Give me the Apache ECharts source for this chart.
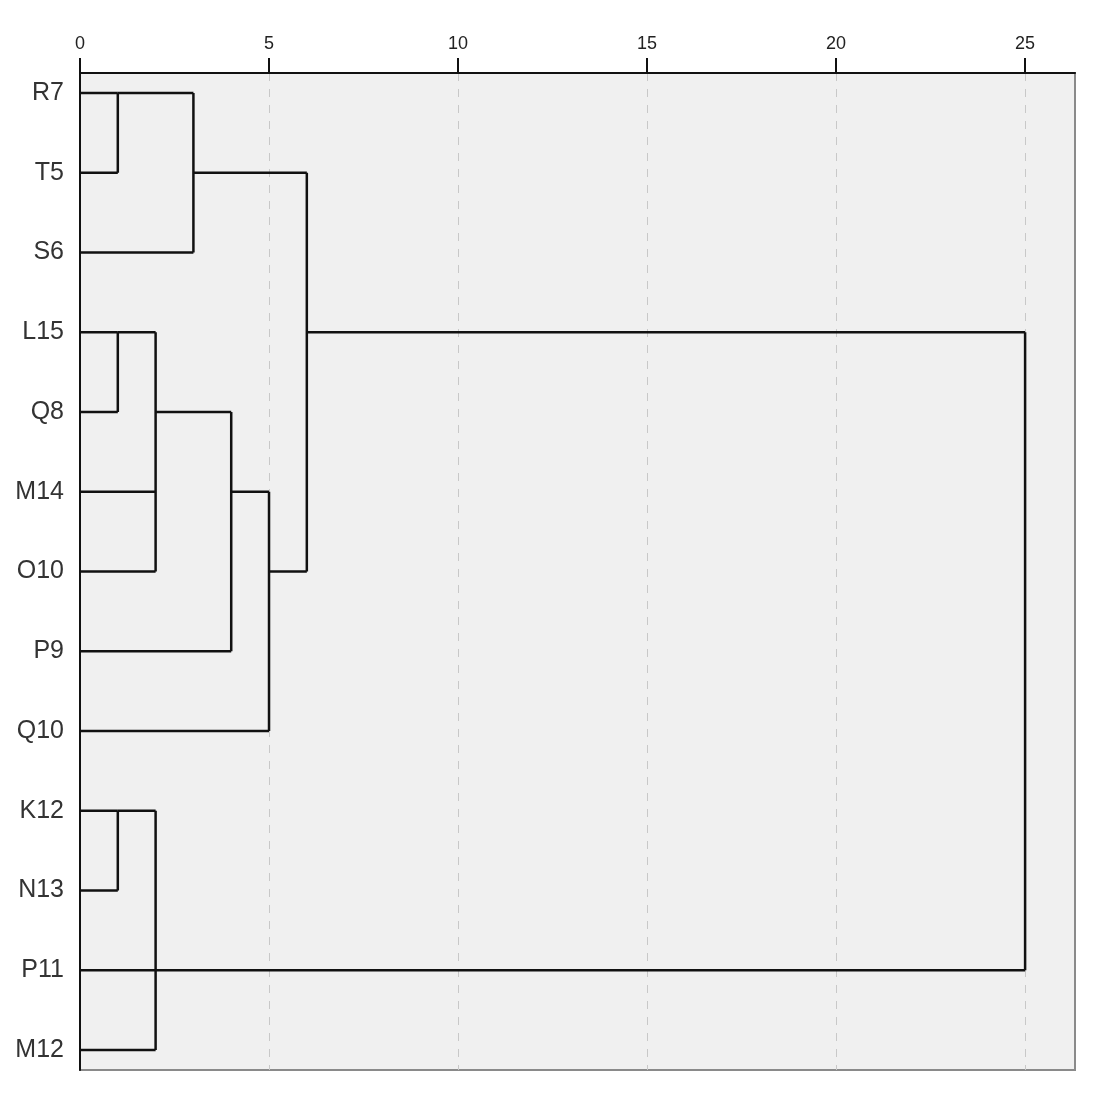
<!DOCTYPE html>
<html>
<head>
<meta charset="utf-8">
<script src="https://cdn.jsdelivr.net/npm/echarts@6/dist/echarts.min.js"></script>
<style>html,body{margin:0;padding:0;background:#fff;}#c{width:1100px;height:1096px;}</style>
</head>
<body>
<div id="c"></div>
<script>
// Leaves (top to bottom)
const leaves = ['R7','T5','S6','L15','Q8','M14','O10','P9','Q10','K12','N13','P11','M12'];
// Merges: ids continue after leaves (13, 14, ...)
const mergeHeights  = [1, 3, 1, 2, 4, 5, 6, 1, 2, 25];
const mergeChildren = [[0,1],[13,2],[3,4],[15,5,6],[16,7],[17,8],[14,18],[9,10],[20,11,12],[19,21]];
const mergeRows     = [0, 1, 3, 4, 5, 6, 3, 9, 11, 7];
const xTicks = [0, 5, 10, 15, 20, 25];

const nodeH = [], nodeRow = [];
leaves.forEach((l, i) => { nodeH.push(0); nodeRow.push(i); });
mergeHeights.forEach((h, i) => { nodeH.push(h); nodeRow.push(mergeRows[i]); });

const segs = [];
mergeChildren.forEach((ch, i) => {
  const h = mergeHeights[i];
  const rows = ch.map(c => nodeRow[c]);
  ch.forEach(c => segs.push({coords: [[nodeH[c], nodeRow[c]], [h, nodeRow[c]]]}));
  segs.push({coords: [[h, Math.min(...rows)], [h, Math.max(...rows)]]});
});

const chart = echarts.init(document.getElementById('c'));
chart.setOption({
  animation: false,
  backgroundColor: '#ffffff',
  grid: {left: 80, right: 25, top: 73, bottom: 26, show: true,
         backgroundColor: '#f0f0f0', borderColor: '#8a8a8a', borderWidth: 2},
  xAxis: {
    type: 'value', position: 'top', min: 0, max: 26.32,
    axisLine: {show: true, onZero: false, lineStyle: {color: '#111', width: 2}},
    axisTick: {show: true, length: 15, customValues: xTicks, lineStyle: {color: '#111', width: 2}},
    axisLabel: {customValues: xTicks, fontSize: 18, color: '#222', margin: 20,
                fontFamily: 'Liberation Sans, Arial, sans-serif'},
    splitLine: {show: true, lineStyle: {color: '#c8c8c8', type: [8, 8], width: 1}}
  },
  yAxis: {
    type: 'value', inverse: true, min: -0.25, max: 12.25,
    axisLine: {show: true, onZero: false, lineStyle: {color: '#111', width: 2}},
    axisTick: {show: false},
    splitLine: {show: false},
    axisLabel: {customValues: leaves.map((l, i) => i), formatter: v => leaves[Math.round(v)],
                fontSize: 25, color: '#333', margin: 16,
                fontFamily: 'Liberation Sans, Arial, sans-serif'}
  },
  series: [{
    type: 'lines', coordinateSystem: 'cartesian2d', polyline: true,
    lineStyle: {color: '#111', width: 2.5, opacity: 1},
    data: segs
  }]
});
</script>
</body>
</html>
